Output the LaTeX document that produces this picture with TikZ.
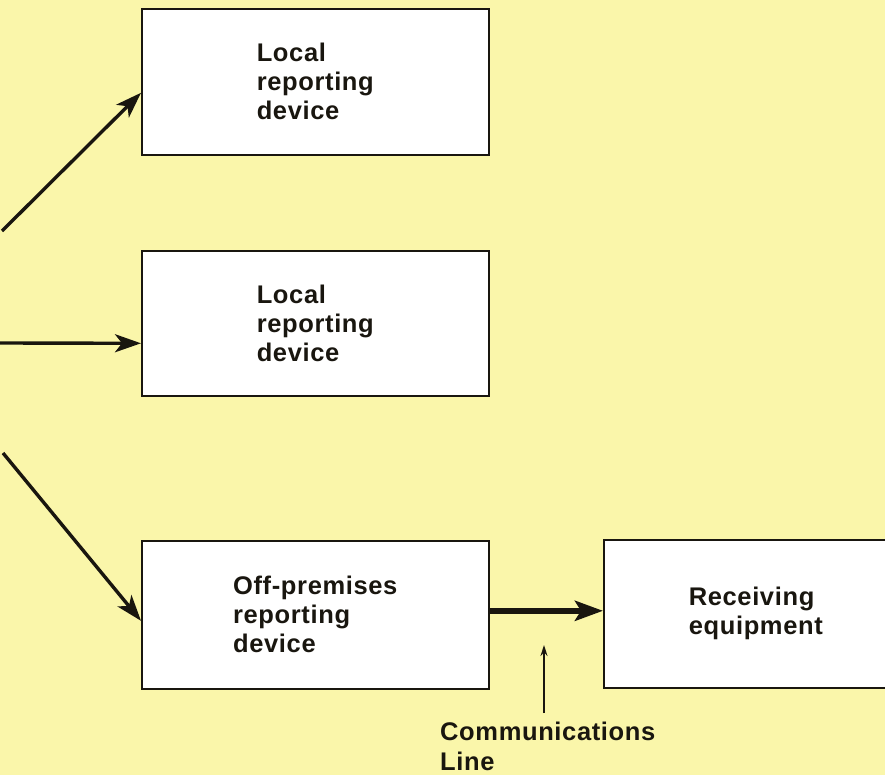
\documentclass[tikz,border=0pt]{standalone}
\usepackage{fontspec}
\setmainfont{Liberation Sans}[LetterSpace=2.5]
\usetikzlibrary{arrows.meta}
\definecolor{bgyellow}{RGB}{250,246,170}
\definecolor{ink}{RGB}{25,22,15}
\tikzset{
  blockbox/.style={draw=ink, line width=1.6pt, fill=white, anchor=north west,
    inner sep=0pt, align=left, font=\bfseries\fontsize{25.5}{29}\selectfont, text=ink},
  mainarrow/.style={draw=ink, line width=3.4pt, -{Stealth[length=26pt,width=18pt,inset=7pt]}},
  commarrow/.style={draw=ink, line width=6pt, -{Stealth[length=28pt,width=20pt,inset=6pt]}},
  thinarrow/.style={draw=ink, line width=1.4pt, -{Stealth[length=11pt,width=7pt]}},
  labeltext/.style={anchor=base west, inner sep=0pt, align=left,
    font=\bfseries\fontsize{25.5}{30}\selectfont, text=ink}
}
\begin{document}
\begin{tikzpicture}[x=1pt,y=-1pt]
\fill[bgyellow] (0,0) rectangle (885,775);
\useasboundingbox (0,0) rectangle (885,775);
\node[blockbox, minimum width=347pt, minimum height=146pt] (b1) at (141,8) {Local\\reporting\\device};
\node[blockbox, minimum width=347pt, minimum height=145pt] (b2) at (141,250) {Local\\reporting\\device};
\node[blockbox, minimum width=347pt, minimum height=148pt] (b3) at (141,540) {Off-premises\\reporting\\device};
\node[blockbox, minimum width=304pt, minimum height=148pt] (b4) at (603,539) {Receiving\\equipment};
\coordinate (s1) at (2,231);
\coordinate (s2) at (0,343);
\coordinate (s3) at (3,453);
\draw[mainarrow] (s1) -- ([yshift=-11pt]b1.west);
\draw[mainarrow] (s2) -- ([yshift=-20pt]b2.west);
\draw[mainarrow] (s3) -- ([yshift=-6pt]b3.west);
\draw[commarrow] ([yshift=4pt]b3.east) -- ([yshift=4pt]b3.east -| b4.west);
\node[labeltext] (cl) at (440,770) {Communications\\Line};
\coordinate (cb) at (544,713);
\coordinate (ct) at (544,645);
\draw[thinarrow] (cb) -- (ct);
\end{tikzpicture}
\end{document}
